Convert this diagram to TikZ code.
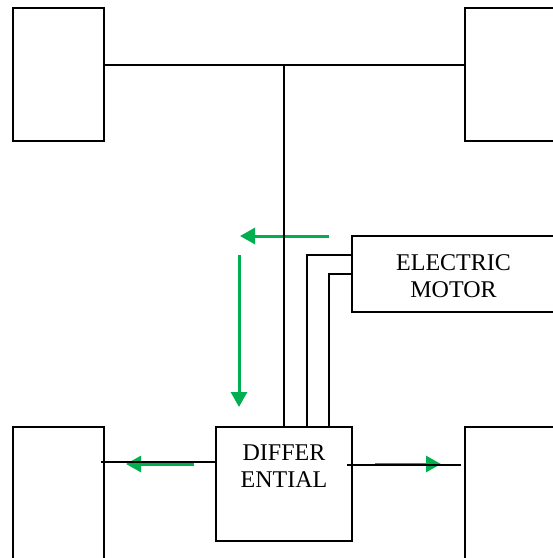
\documentclass[tikz,border=0pt]{standalone}
\usepackage{xcolor}
\usepackage{fontspec}
\setmainfont{Liberation Serif}
\usetikzlibrary{arrows.meta}
\definecolor{flowcolor}{RGB}{0,176,80}

\begin{document}
\begin{tikzpicture}[
    x=1pt, y=-1pt,
    part/.style={draw, line width=1.7pt, minimum width=91pt, minimum height=133pt, inner sep=0pt},
    link/.style={line width=1.7pt},
    flow/.style={-{Triangle[length=15pt, width=16pt]}, line width=3pt, flowcolor},
    tag/.style={font=\fontsize{24}{27}\selectfont, align=center, inner sep=0pt}
]
    \clip (0,0) rectangle (553,558);

    % Wheels
    \node[part] (wheelfl) at (58.5,74.5) {};
    \node[part] (wheelfr) at (510.5,74.5) {};
    \node[part] (wheelrl) at (58.5,493.5) {};
    \node[part] (wheelrr) at (510.5,493.5) {};

    % Drive units
    \node[part, minimum width=136pt, minimum height=114pt] (diff) at (284,484) {};
    \node[tag] (difftext) at (284,466.5) {DIFFER\\ENTIAL};
    \node[part, minimum width=204pt, minimum height=76pt] (motor) at (454,274) {};
    \node[tag] (motortext) at (453.5,276.5) {ELECTRIC\\MOTOR};

    % Free ends and bends
    \coordinate (axlefl) at (104,65);
    \coordinate (axlefr) at (465,65);
    \coordinate (shafttop) at (284,65);
    \coordinate (shaftbot) at (284,427);
    \coordinate (wireAm) at (352,255);
    \coordinate (wireAb) at (307,427);
    \coordinate (wireBm) at (352,274);
    \coordinate (wireBb) at (329,427);
    \coordinate (rearl) at (101,462);
    \coordinate (difl) at (216,462);
    \coordinate (difr) at (347,465);
    \coordinate (rearr) at (461,465);

    % Power flow
    \coordinate (flowAs) at (329,236);
    \coordinate (flowAe) at (240,236);
    \coordinate (flowBs) at (239,255);
    \coordinate (flowBe) at (239,407);
    \coordinate (flowCs) at (194,464);
    \coordinate (flowCe) at (126,464);
    \coordinate (flowDs) at (375,464);
    \coordinate (flowDe) at (441,464);
    \draw[flow] (flowAs) -- (flowAe);
    \draw[flow] (flowBs) -- (flowBe);
    \draw[flow] (flowCs) -- (flowCe);
    \draw[flow] (flowDs) -- (flowDe);

    % Shafts
    \draw[link] (axlefl) -- (axlefr);
    \draw[link] (shafttop) -- (shaftbot);
    \draw[link] (wireAm) -| (wireAb);
    \draw[link] (wireBm) -| (wireBb);
    \draw[link] (rearl) -- (difl);
    \draw[link] (difr) -- (rearr);
\end{tikzpicture}
\end{document}
